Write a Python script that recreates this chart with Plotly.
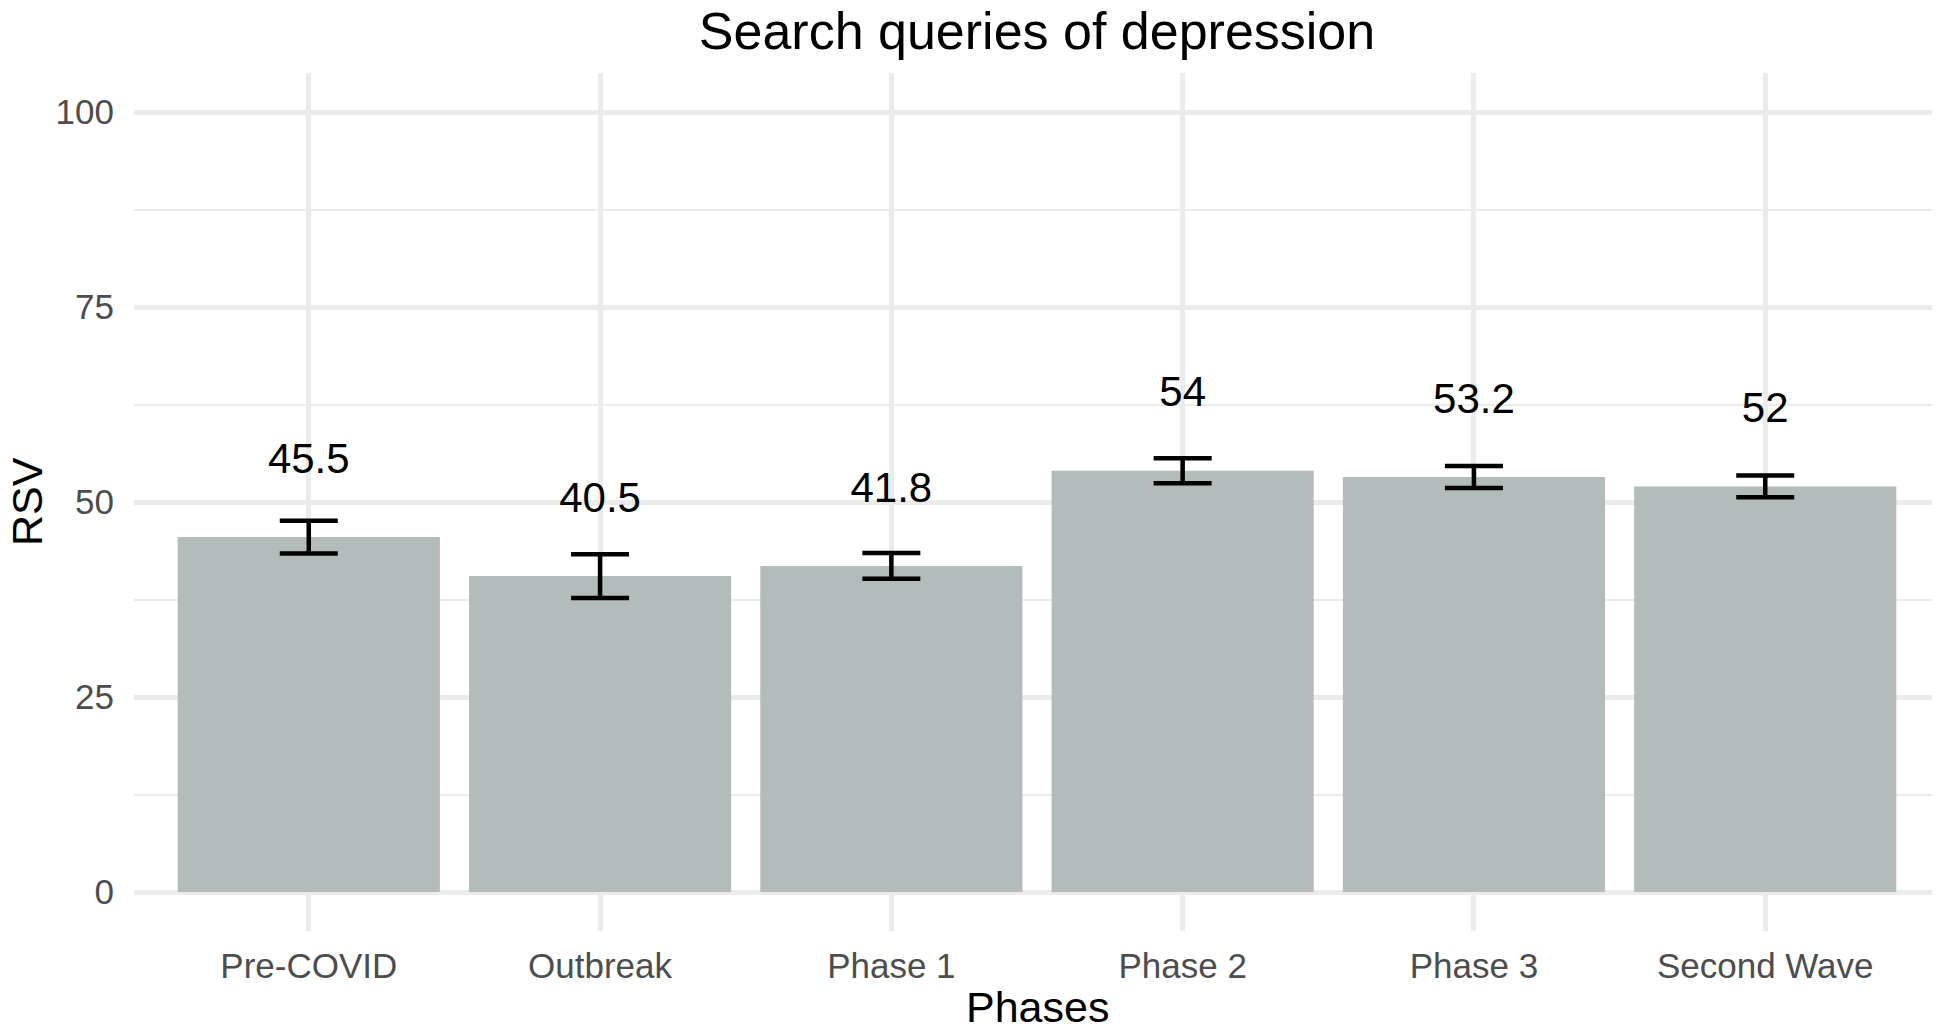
import plotly.graph_objects as go

phases = ["Pre-COVID", "Outbreak", "Phase 1", "Phase 2", "Phase 3", "Second Wave"]
rsv_mean = [45.5, 40.5, 41.8, 54, 53.2, 52]
rsv_err = [2.1, 2.8, 1.65, 1.6, 1.4, 1.4]
label_text = ["45.5", "40.5", "41.8", "54", "53.2", "52"]
y_ticks = [0, 25, 50, 75, 100]

LABEL_OFFSET = 9.6
FONT = "Liberation Sans, Helvetica, Arial, sans-serif"

fig = go.Figure()
fig.add_trace(go.Bar(
    x=phases, y=rsv_mean, width=0.9,
    marker=dict(color="#B3BBBB", line=dict(width=0)),
    error_y=dict(type="data", array=rsv_err, visible=True,
                 color="black", thickness=4.5, width=29),
    showlegend=False, hoverinfo="x+y",
))
fig.add_trace(go.Scatter(
    x=phases, y=[v + LABEL_OFFSET for v in rsv_mean],
    mode="text", text=label_text,
    textfont=dict(family=FONT, size=42, color="black"),
    textposition="middle center", showlegend=False, hoverinfo="skip",
))

W, H = 1932, 1021
ML, MR, MT, MB = 126, 0, 65, 98
PW, PH = W - ML - MR, H - MT - MB

fig.update_layout(
    width=W, height=H,
    margin=dict(l=ML, r=MR, t=MT, b=MB),
    paper_bgcolor="white", plot_bgcolor="white",
    font=dict(family=FONT, color="black"),
    title=dict(text="Search queries of depression", x=0.5, xref="paper",
               y=1 - 23 / H, yref="container", yanchor="middle",
               xanchor="center", font=dict(size=52, color="black"),
               automargin=False),
    bargap=0.1,
    annotations=[
        dict(text="Phases", xref="paper", yref="paper", x=0.5,
             y=-(999 - (H - MB)) / PH, xanchor="center", yanchor="middle",
             showarrow=False, font=dict(size=43, color="black")),
        dict(text="RSV", xref="paper", yref="paper", x=-(ML - 19) / PW,
             y=0.5, xanchor="center", yanchor="middle", textangle=-90,
             showarrow=False, font=dict(size=43, color="black")),
    ],
)
fig.update_xaxes(
    type="category", range=[-0.6, 5.6], automargin=False,
    showgrid=True, gridcolor="#EBEBEB", gridwidth=4.5,
    showline=False, zeroline=False,
    ticks="outside", ticklen=4, tickcolor="rgba(0,0,0,0)",
    tickfont=dict(family=FONT, size=35, color="#4D4D4D"),
)
fig.update_yaxes(
    range=[-5, 105], tickvals=y_ticks, ticktext=[str(t) for t in y_ticks],
    automargin=False,
    showgrid=True, gridcolor="#EBEBEB", gridwidth=4.5,
    minor=dict(tickvals=[12.5, 37.5, 62.5, 87.5], showgrid=True,
               gridcolor="#EBEBEB", gridwidth=2, ticks=""),
    showline=False, zeroline=False,
    ticks="outside", ticklen=12, tickcolor="rgba(0,0,0,0)",
    tickfont=dict(family=FONT, size=35, color="#4D4D4D"),
)

fig.write_html("out.html")
